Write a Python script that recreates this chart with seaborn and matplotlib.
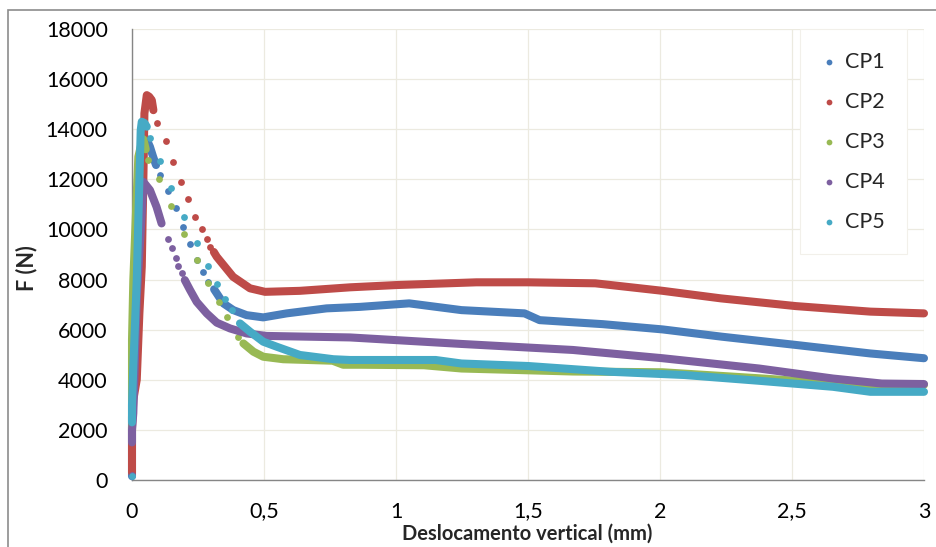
import numpy as np
import pandas as pd
import matplotlib
matplotlib.use('Agg')
import matplotlib.pyplot as plt
from matplotlib.patches import Rectangle
import seaborn as sns

# --- data (x in mm, F in N) ---
series_names = ['CP1', 'CP2', 'CP3', 'CP4', 'CP5']
colors = ['#4A7EBB', '#BE4B48', '#98B954', '#7D60A0', '#46AAC5']

# dense rising part (drawn as thick line)
cp1_rise_x = [0.0, 0.0, 0.005, 0.011, 0.024, 0.037, 0.043, 0.055, 0.068, 0.08, 0.091]
cp1_rise_y = [150, 2500, 5000, 7980, 11300, 13300, 13700, 13600, 13300, 12900, 12570]
cp2_rise_x = [0.0, 0.0, 0.005, 0.018, 0.028, 0.037, 0.043, 0.047, 0.056, 0.065, 0.075, 0.081]
cp2_rise_y = [300, 2100, 3200, 4000, 6660, 8510, 11970, 14630, 15360, 15300, 15160, 14760]
cp3_rise_x = [0.0, 0.0, 0.005, 0.015, 0.024, 0.033, 0.043, 0.052]
cp3_rise_y = [2000, 5590, 7980, 10640, 12900, 13300, 13600, 13200]
cp4_rise_x = [0.0, 0.0, 0.005, 0.018, 0.037, 0.043, 0.068, 0.093, 0.112]
cp4_rise_y = [1500, 2000, 2670, 7310, 10640, 11900, 11570, 10900, 10240]
cp5_rise_x = [0.0, 0.0, 0.005, 0.018, 0.028, 0.033, 0.037, 0.047, 0.056]
cp5_rise_y = [2300, 3000, 4520, 7980, 11970, 13960, 14300, 14250, 14100]

# sparse points during the fast drop (drawn as single dots)
cp1_drop_x = [0.106, 0.138, 0.167, 0.194, 0.22, 0.247, 0.27, 0.289]
cp1_drop_y = [12170, 11550, 10840, 10080, 9420, 8780, 8310, 7910]
cp2_drop_x = [0.096, 0.128, 0.156, 0.184, 0.213, 0.239, 0.264, 0.283, 0.295]
cp2_drop_y = [14230, 13540, 12700, 11900, 11200, 10510, 10000, 9600, 9290]
cp3_drop_x = [0.062, 0.102, 0.148, 0.198, 0.247, 0.289, 0.33, 0.359, 0.4]
cp3_drop_y = [12770, 12010, 10930, 9800, 8780, 7870, 7090, 6490, 5720]
cp4_drop_x = [0.0, 0.135, 0.15, 0.167, 0.175, 0.188]
cp4_drop_y = [200, 9600, 9240, 8880, 8540, 8270]
cp5_drop_x = [0.0, 0.068, 0.106, 0.148, 0.198, 0.247, 0.289, 0.323, 0.352, 0.378]
cp5_drop_y = [150, 13630, 12730, 11640, 10480, 9440, 8540, 7820, 7210, 6780]

# dense post-peak plateau (thick line)
cp1_tail_x = [0.311, 0.346, 0.384, 0.434, 0.497, 0.586, 0.737, 0.864, 1.05, 1.248, 1.487, 1.544,
              1.783, 2.01, 2.234, 2.515, 2.797, 3.0]
cp1_tail_y = [7610, 7050, 6780, 6580, 6490, 6650, 6850, 6910, 7050, 6780, 6650, 6380,
              6220, 6010, 5720, 5390, 5050, 4860]
cp2_tail_x = [0.31, 0.321, 0.383, 0.447, 0.504, 0.636, 0.826, 1.0, 1.305, 1.5, 1.755, 2.01,
              2.23, 2.515, 2.797, 3.0]
cp2_tail_y = [9100, 8910, 8110, 7650, 7510, 7550, 7690, 7780, 7890, 7890, 7850, 7550,
              7250, 6940, 6720, 6650]
cp3_tail_x = [0.422, 0.46, 0.497, 0.573, 0.76, 0.8, 0.864, 1.106, 1.248, 1.67, 2.01, 2.375,
              2.655, 2.91, 3.0]
cp3_tail_y = [5450, 5120, 4920, 4820, 4760, 4600, 4600, 4580, 4450, 4330, 4300, 4060,
              3860, 3780, 3800]
cp4_tail_x = [0.2, 0.22, 0.245, 0.283, 0.321, 0.371, 0.434, 0.51, 0.826, 1.248, 1.67, 2.01,
              2.375, 2.655, 2.84, 3.0]
cp4_tail_y = [7980, 7580, 7110, 6650, 6280, 6050, 5850, 5750, 5690, 5430, 5190, 4860,
              4450, 4050, 3850, 3830]
cp5_tail_x = [0.409, 0.447, 0.497, 0.548, 0.636, 0.763, 0.826, 1.15, 1.248, 1.5, 1.81, 2.093,
              2.375, 2.655, 2.797, 3.0]
cp5_tail_y = [6250, 5920, 5520, 5320, 4990, 4820, 4790, 4790, 4650, 4550, 4320, 4190,
              3960, 3720, 3520, 3520]

x_ticks = [0, 0.5, 1, 1.5, 2, 2.5, 3]
x_tick_labels = ['0', '0,5', '1', '1,5', '2', '2,5', '3']
y_ticks = list(range(0, 18001, 2000))

rises = [(cp1_rise_x, cp1_rise_y), (cp2_rise_x, cp2_rise_y), (cp3_rise_x, cp3_rise_y),
         (cp4_rise_x, cp4_rise_y), (cp5_rise_x, cp5_rise_y)]
drops = [(cp1_drop_x, cp1_drop_y), (cp2_drop_x, cp2_drop_y), (cp3_drop_x, cp3_drop_y),
         (cp4_drop_x, cp4_drop_y), (cp5_drop_x, cp5_drop_y)]
tails = [(cp1_tail_x, cp1_tail_y), (cp2_tail_x, cp2_tail_y), (cp3_tail_x, cp3_tail_y),
         (cp4_tail_x, cp4_tail_y), (cp5_tail_x, cp5_tail_y)]

sns.set_style('white')
plt.rcParams['font.family'] = ['Lato', 'DejaVu Sans']

fig = plt.figure(figsize=(9.37, 5.47), dpi=100)
ax = fig.add_axes([132 / 937, 1 - 480 / 547, 792 / 937, 451 / 547])

lw = 5.8
for i, name in enumerate(series_names):
    c = colors[i]
    for seg in (rises[i], tails[i]):
        df = pd.DataFrame({'x': seg[0], 'y': seg[1]})
        sns.lineplot(data=df, x='x', y='y', ax=ax, color=c, lw=lw, sort=False,
                     estimator=None, legend=False, solid_capstyle='round',
                     solid_joinstyle='round', clip_on=False, zorder=3 + i)
    df = pd.DataFrame({'x': drops[i][0], 'y': drops[i][1]})
    sns.scatterplot(data=df, x='x', y='y', ax=ax, color=c, s=24, linewidth=0,
                    label=name, clip_on=False, zorder=3 + i)

ax.set_xlim(0, 3)
ax.set_ylim(0, 18000)
ax.set_xticks(x_ticks)
ax.set_xticklabels(x_tick_labels)
ax.set_yticks(y_ticks)
ax.set_yticklabels([str(v) for v in y_ticks])

ax.grid(True, color='#ECEAE0', lw=0.9)
ax.set_axisbelow(True)
for s in ['top', 'right']:
    ax.spines[s].set_visible(False)
for s in ['left', 'bottom']:
    ax.spines[s].set_color('#868686')
    ax.spines[s].set_linewidth(1)
ax.tick_params(axis='both', direction='out', length=5.5, width=1, color='#868686',
               labelsize=15.5, labelcolor='black')
ax.tick_params(axis='y', pad=12)
ax.tick_params(axis='x', pad=10)

ax.set_xlabel('Deslocamento vertical (mm)', fontsize=14.5, fontweight='bold')
ax.set_ylabel('F (N)', fontsize=15.5, fontweight='bold')
ax.xaxis.set_label_coords(0.499, -0.097)
ax.yaxis.set_label_coords(-0.12, 0.47)

leg = ax.legend(loc='upper left', bbox_to_anchor=(0.843, 1.0), borderaxespad=0,
                fontsize=15.5, frameon=True, facecolor='white', edgecolor='#F2F0EA',
                framealpha=1, labelspacing=0.93, handletextpad=0.44, markerscale=0.85,
                borderpad=1.05, handlelength=0.6)
leg.get_frame().set_linewidth(0.8)
leg.get_frame().set_boxstyle('square', pad=0)

fig.patches.append(Rectangle((8 / 937, -0.1), 1.0, 1.1 - 10 / 547, transform=fig.transFigure,
                             fill=False, edgecolor='#8C8C8C', lw=1.2))

fig.savefig('out.png', dpi=100)
